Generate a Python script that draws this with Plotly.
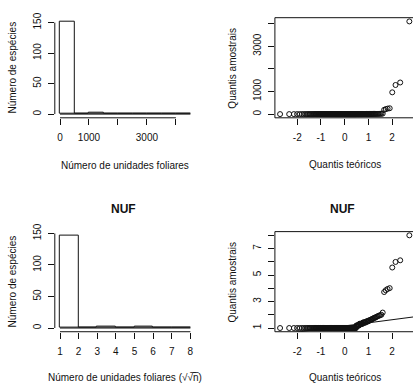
import numpy as np
import plotly.graph_objects as go
from statistics import NormalDist

# Number of leaf units per species (distinct values and how many species share each)
leaf_units = [1, 2, 3, 4, 5, 6, 7, 8, 9, 10, 11, 12, 13, 14, 15, 16, 22,
              191, 220, 243, 259, 962, 1287, 1397, 4096]
n_species = [107, 7, 7, 6, 4, 3, 2, 2, 1, 2, 1, 1, 1, 1, 1, 1, 1,
             1, 1, 1, 1, 1, 1, 1, 1]

# Histogram breaks
raw_breaks = [0, 500, 1000, 1500, 2000, 2500, 3000, 3500, 4000, 4500]
nuf_breaks = [1, 2, 3, 4, 5, 6, 7, 8]

# Axis ticks and labels (R hides labels that would overlap)
raw_ticks = [0, 1000, 2000, 3000, 4000]
raw_ticktext = ["0", "1000", "", "3000", ""]
count_ticks = [0, 50, 100, 150]
nuf_ticks = [1, 2, 3, 4, 5, 6, 7, 8]
nuf_ticktext_hist = ["1", "2", "3", "4", "5", "6", "7", "8"]
nuf_ticktext_qq = ["1", "", "3", "", "5", "", "7", ""]
qq_xticks = [-2, -1, 0, 1, 2]

raw = np.repeat(leaf_units, n_species).astype(float)
nuf = np.sqrt(np.sqrt(raw))
n = len(raw)


def r_hist(values, breaks):
    """Counts with right-closed bins, lowest break included (R's hist)."""
    b = np.asarray(breaks, float)
    idx = np.searchsorted(b, values, side="left") - 1
    idx = np.clip(idx, 0, len(b) - 2)
    return np.bincount(idx, minlength=len(b) - 1)


def r_range(lo, hi):
    d = (hi - lo) * 0.04
    return lo - d, hi + d


theo = np.array([NormalDist().inv_cdf((i - 0.5) / n) for i in range(1, n + 1)])
raw_sorted = np.sort(raw)
nuf_sorted = np.sort(nuf)

# qqline through the quartiles
qx = np.array([NormalDist().inv_cdf(0.25), NormalDist().inv_cdf(0.75)])
qy = np.quantile(nuf, [0.25, 0.75])
slope = (qy[1] - qy[0]) / (qx[1] - qx[0])
intercept = qy[0] - slope * qx[0]

W, H = 413, 390
L0, L1 = 54.8, 195.6
R0, R1 = 274.9, 414.5
T0, T1 = 9.9, 112.1
B0, B1 = 228.3, 330.5

FONT = "Liberation Sans, Arial, sans-serif"
FS = 10
INK = "#111111"

fig = go.Figure()


def py(px):
    return 1 - px / H


dom_left = [L0 / W, L1 / W]
dom_right = [R0 / W, 1.0]
dom_top = [py(T1), py(T0)]
dom_bot = [py(B1), py(B0)]

qx_lo, qx_hi = r_range(theo.min(), theo.max())
qx_vis_hi = qx_lo + (qx_hi - qx_lo) * (W - R0) / (R1 - R0)
frame_x1 = (R1 - R0) / (W - R0)

axis_common = dict(showgrid=False, zeroline=False, showline=False,
                   ticks="outside", ticklen=6, tickwidth=1, tickcolor=INK,
                   tickfont=dict(family=FONT, size=FS, color=INK),
                   fixedrange=True)

shapes = []
annotations = []


def hist_panel(k, values, breaks, xdom, ydom, xticks, xtext):
    counts = r_hist(values, breaks)
    b = np.asarray(breaks, float)
    mids = (b[:-1] + b[1:]) / 2
    widths = np.diff(b)
    xa = "x" if k == 1 else f"x{k}"
    ya = "y" if k == 1 else f"y{k}"
    fig.add_trace(go.Bar(x=mids, y=counts, width=widths, xaxis=xa, yaxis=ya,
                         marker=dict(color="white", line=dict(color=INK, width=1)),
                         showlegend=False, hoverinfo="skip"))
    fig.add_trace(go.Scatter(x=[b[0], b[-1]], y=[0, 0], mode="lines", xaxis=xa, yaxis=ya,
                             line=dict(color=INK, width=1), showlegend=False, hoverinfo="skip"))
    xr = r_range(b[0], b[-1])
    yr = r_range(0, counts.max())
    fig.update_layout(**{
        f"xaxis{'' if k == 1 else k}": dict(axis_common, domain=xdom, range=list(xr),
                                            tickvals=xticks, ticktext=xtext,
                                            anchor=ya, ticklabelstandoff=4),
        f"yaxis{'' if k == 1 else k}": dict(axis_common, domain=ydom, range=list(yr),
                                            tickvals=count_ticks,
                                            ticktext=[str(t) for t in count_ticks],
                                            tickangle=-90, anchor=xa, ticklabelstandoff=3),
    })
    # R-style axis lines spanning only the tick range
    fx = [(t - xr[0]) / (xr[1] - xr[0]) for t in (xticks[0], xticks[-1])]
    fy = [(t - yr[0]) / (yr[1] - yr[0]) for t in (count_ticks[0], count_ticks[-1])]
    shapes.append(dict(type="line", xref=f"{xa} domain", yref=f"{ya} domain",
                       x0=fx[0], x1=fx[1], y0=0, y1=0, line=dict(color=INK, width=1)))
    shapes.append(dict(type="line", xref=f"{xa} domain", yref=f"{ya} domain",
                       x0=0, x1=0, y0=fy[0], y1=fy[1], line=dict(color=INK, width=1)))


def qq_panel(k, sample, ydom, yticks, ytext, line=False):
    xa = f"x{k}"
    ya = f"y{k}"
    fig.add_trace(go.Scatter(x=theo, y=sample, mode="markers", xaxis=xa, yaxis=ya,
                             marker=dict(symbol="circle-open", size=5, color=INK,
                                         line=dict(width=1, color=INK)),
                             cliponaxis=False, showlegend=False, hoverinfo="skip"))
    yr = r_range(sample.min(), sample.max())
    if line:
        xl = np.array([qx_lo, qx_vis_hi])
        fig.add_trace(go.Scatter(x=xl, y=intercept + slope * xl, mode="lines",
                                 xaxis=xa, yaxis=ya, line=dict(color=INK, width=1),
                                 showlegend=False, hoverinfo="skip"))
    fig.update_layout(**{
        f"xaxis{k}": dict(axis_common, domain=dom_right, range=[qx_lo, qx_vis_hi],
                          tickvals=qq_xticks, ticktext=[str(t) for t in qq_xticks],
                          anchor=ya, ticklabelstandoff=4),
        f"yaxis{k}": dict(axis_common, domain=ydom, range=list(yr),
                          tickvals=yticks, ticktext=ytext,
                          tickangle=-90, anchor=xa, ticklabelstandoff=3),
    })
    shapes.append(dict(type="rect", xref=f"{xa} domain", yref=f"{ya} domain",
                       x0=0, x1=frame_x1, y0=0, y1=1, line=dict(color=INK, width=1)))


hist_panel(1, raw, raw_breaks, dom_left, dom_top, raw_ticks, raw_ticktext)
qq_panel(2, raw_sorted, dom_top, raw_ticks, raw_ticktext)
hist_panel(3, nuf, nuf_breaks, dom_left, dom_bot, nuf_ticks, nuf_ticktext_hist)
qq_panel(4, nuf_sorted, dom_bot, nuf_ticks, nuf_ticktext_qq, line=True)


def text(x, y, s, angle=0, size=FS, bold=False):
    annotations.append(dict(x=x / W, y=py(y), xref="paper", yref="paper",
                            text=f"<b>{s}</b>" if bold else s, showarrow=False,
                            textangle=angle, xanchor="center", yanchor="middle",
                            font=dict(family=FONT, size=size, color=INK)))


xlab_raw = "Número de unidades foliares"
# nested square root: the combining overline (U+0305) draws the radical bar
xlab_nuf = "Número de unidades foliares (√√\u0305n\u0305)"
ylab_hist = "Número de espécies"
ylab_qq = "Quantis amostrais"
xlab_qq = "Quantis teóricos"

cl = (L0 + L1) / 2
cr = (R0 + R1) / 2
text(cl, T1 + 49, xlab_raw)
text(cr, T1 + 48, xlab_qq)
text(cl, B1 + 47, xlab_nuf)
text(cr, B1 + 47, xlab_qq)
text(L0 - 42, (T0 + T1) / 2, ylab_hist, angle=-90)
text(R0 - 42, (T0 + T1) / 2, ylab_qq, angle=-90)
text(L0 - 42, (B0 + B1) / 2, ylab_hist, angle=-90)
text(R0 - 42, (B0 + B1) / 2, ylab_qq, angle=-90)
text(cl - 2, 205.7, "NUF", size=12, bold=True)
text(cr - 2, 205.7, "NUF", size=12, bold=True)

fig.update_layout(width=W, height=H, autosize=False,
                  margin=dict(l=0, r=0, t=0, b=0, pad=0),
                  paper_bgcolor="white", plot_bgcolor="white",
                  shapes=shapes, annotations=annotations, showlegend=False,
                  bargap=0)

fig.write_html("out.html", config={"displayModeBar": False})
